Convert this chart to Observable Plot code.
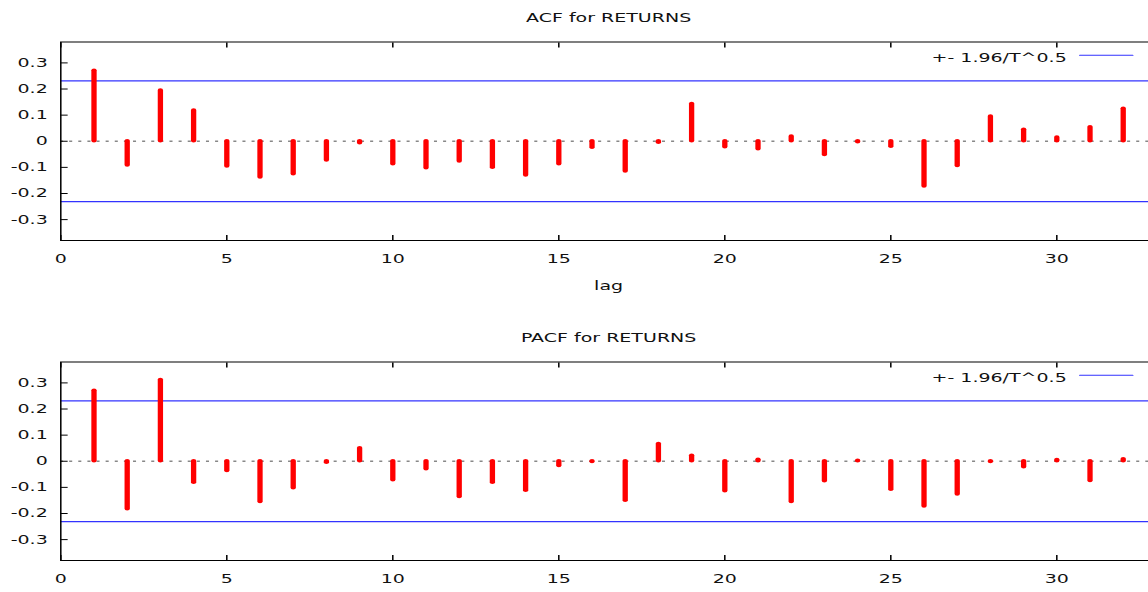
<!DOCTYPE html>
<html>
<head>
<meta charset="utf-8">
<script src="https://cdn.jsdelivr.net/npm/d3@7"></script>
<script src="https://cdn.jsdelivr.net/npm/@observablehq/plot@0.6"></script>
<style>
html, body { margin: 0; padding: 0; background: #fff; }
#wrap { position: relative; width: 1148px; height: 592px; overflow: hidden; background: #fff; }
#stretch { position: absolute; left: 0; top: 0; width: 766px; height: 592px; transform: scaleX(1.52); transform-origin: 0 0; }
.panel { position: absolute; left: 0; }
</style>
</head>
<body>
<div id="wrap"><div id="stretch"></div></div>
<script>
const lags = [1,2,3,4,5,6,7,8,9,10,11,12,13,14,15,16,17,18,19,20,21,22,23,24,25,26,27,28,29,30,31,32];
const acf = [0.270,-0.093,0.194,0.118,-0.097,-0.139,-0.126,-0.074,-0.008,-0.088,
             -0.103,-0.078,-0.101,-0.131,-0.088,-0.025,-0.116,-0.006,0.143,-0.023,
             -0.031,0.018,-0.053,-0.004,-0.021,-0.173,-0.095,0.095,0.044,0.014,0.054,0.124];
const pacf = [0.270,-0.184,0.311,-0.082,-0.037,-0.156,-0.103,-0.006,0.050,-0.073,
              -0.031,-0.137,-0.082,-0.113,-0.018,-0.003,-0.151,0.066,0.021,-0.115,
              0.006,-0.156,-0.077,0.002,-0.109,-0.173,-0.127,-0.003,-0.023,0.005,-0.076,0.008];
const bound = 0.231;
const xTicks = [0,5,10,15,20,25,30];
const yTicks = [-0.3,-0.2,-0.1,0,0.1,0.2,0.3];
const titles = ["ACF for RETURNS", "PACF for RETURNS"];
const xLabel = "lag";
const legendLabel = "+- 1.96/T^0.5";

const FONT = "DejaVu Sans";
const BLUE = "#3333ff";

function panel(values, title, withLabel) {
  const data = lags.map((lag, i) => ({lag, value: values[i]}));
  const shapeLine = {draw(ctx, l) { ctx.moveTo(0, 0); ctx.lineTo(0, -l); }};
  const marks = [
    Plot.ruleY([0], {stroke: "#888", strokeWidth: 1.3, strokeDasharray: "2,4"}),
    Plot.ruleY([bound], {stroke: BLUE, strokeWidth: 1.1}),
    Plot.ruleY([-bound], {stroke: BLUE, strokeWidth: 1.1}),
    Plot.ruleX(data, {x: "lag", y1: 0, y2: "value", stroke: "#ff0000", strokeWidth: 3.5, strokeLinecap: "round"}),
    Plot.frame({stroke: "#000", strokeWidth: 1}),
    Plot.axisX({anchor: "bottom", ticks: xTicks, tickSize: -5, tickPadding: 18.5, tickFormat: d => String(d), label: null, fontSize: 12.5, fill: "#111"}),
    Plot.axisX({anchor: "top", ticks: xTicks, tickSize: -5, tickFormat: () => "", label: null}),
    Plot.axisY({anchor: "left", ticks: yTicks, tickSize: -5, tickPadding: 13.6, tickFormat: d => String(d), label: null, fontSize: 12.5, fill: "#111"}),
    Plot.axisY({anchor: "right", ticks: yTicks, tickSize: -5, tickFormat: () => "", label: null}),
    Plot.text([title], {text: d => d, frameAnchor: "top", dy: -28.5, fontSize: 12.5, fill: "#111"}),
    Plot.text([legendLabel], {text: d => d, frameAnchor: "top-right", dx: -59, dy: 11, textAnchor: "end", fontSize: 12.5, fill: "#111"}),
    Plot.vector([legendLabel], {frameAnchor: "top-right", dx: -50.4, dy: 13.3, length: 34.8, rotate: 90, anchor: "start", shape: shapeLine, stroke: BLUE, strokeWidth: 1.1})
  ];
  if (withLabel) {
    marks.push(Plot.text([xLabel], {text: d => d, frameAnchor: "bottom", dy: 49.5, fontSize: 12.5, fill: "#111"}));
  }
  return Plot.plot({
    width: 766,
    height: 300,
    marginLeft: 39.5,
    marginRight: 5.7,
    marginTop: 41.5,
    marginBottom: 60,
    style: {fontFamily: FONT, fontSize: "12.5px", color: "#000", background: "transparent", overflow: "visible"},
    x: {domain: [0, 33]},
    y: {domain: [-0.38, 0.38]},
    marks
  });
}

const host = document.getElementById("stretch");
const p1 = panel(acf, titles[0], true);
p1.classList.add("panel");
p1.style.top = "0px";
host.appendChild(p1);
const p2 = panel(pacf, titles[1], false);
p2.classList.add("panel");
p2.style.top = "319.5px";
host.appendChild(p2);
</script>
</body>
</html>
